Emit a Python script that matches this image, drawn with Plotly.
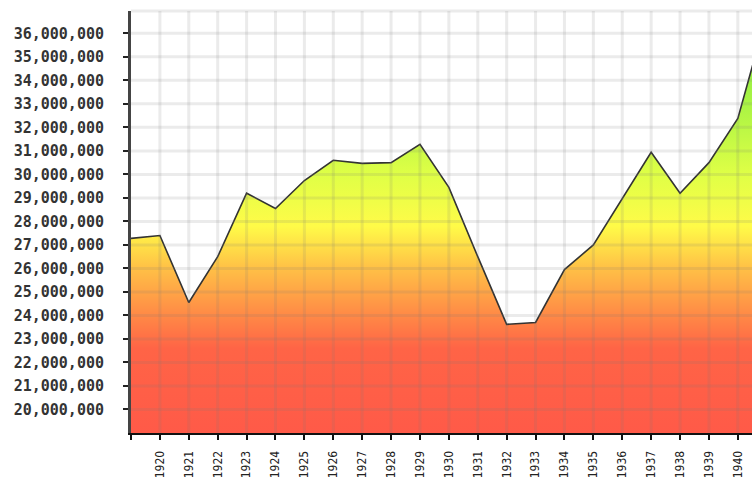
import plotly.graph_objects as go

years = list(range(1919, 1942))
values = [27.28e6, 27.4e6, 24.55e6, 26.5e6, 29.2e6, 28.55e6, 29.74e6, 30.6e6,
          30.47e6, 30.5e6, 31.28e6, 29.45e6, 26.5e6, 23.62e6, 23.7e6, 25.95e6,
          27.0e6, 29.0e6, 30.94e6, 29.2e6, 30.5e6, 32.38e6, 36.8e6]
y_ticks = list(range(20_000_000, 36_000_001, 1_000_000))
x_tick_labels = [str(y) if y != 1919 else "" for y in years[:-1]]

Y_MIN, Y_MAX = 19.0e6, 36.95e6
X_MIN, X_MAX = 1919, 1940.49

grad = [
    [0.0, "#ff5a48"],
    [0.20, "#ff6446"],
    [0.28, "#ff8a46"],
    [0.39, "#ffc046"],
    [0.49, "#fffb48"],
    [0.61, "#e0ff46"],
    [0.78, "#aaf444"],
    [1.0, "#74e844"],
]

fig = go.Figure()
fig.add_trace(go.Scatter(
    x=years, y=values, mode="lines", fill="tozeroy",
    line=dict(color="#333333", width=1.6),
    fillgradient=dict(type="vertical", start=Y_MIN, stop=Y_MAX, colorscale=grad),
    hoverinfo="x+y", showlegend=False,
))

grid_col = "rgba(120,120,120,0.15)"
shapes = []
for yr in years[1:]:
    shapes.append(dict(type="line", xref="x", yref="paper", x0=yr, x1=yr, y0=0, y1=1,
                       line=dict(color=grid_col, width=3), layer="above"))
for t in y_ticks:
    shapes.append(dict(type="line", xref="paper", yref="y", x0=0, x1=1, y0=t, y1=t,
                       line=dict(color=grid_col, width=3), layer="above"))
shapes.append(dict(type="line", xref="paper", yref="paper", x0=0, x1=1, y0=1, y1=1,
                   line=dict(color=grid_col, width=3), layer="above"))

fig.update_layout(
    width=752, height=478,
    margin=dict(l=131, r=0, t=11, b=45, autoexpand=False),
    paper_bgcolor="white", plot_bgcolor="white",
    shapes=shapes,
    xaxis=dict(
        range=[X_MIN, X_MAX], tickmode="array", tickvals=years[:-1], ticktext=x_tick_labels,
        tickangle=-90, showgrid=False, zeroline=False, automargin=False,
        showline=True, linecolor="#111111", linewidth=2,
        ticks="outside", ticklen=5, tickwidth=2, tickcolor="#111111",
        ticklabelstandoff=6,
        tickfont=dict(family="DejaVu Sans Condensed, DejaVu Sans", size=12, color="#222222"),
    ),
    yaxis=dict(
        range=[Y_MIN, Y_MAX], tickmode="array", tickvals=y_ticks,
        ticktext=[f"{t:,}" for t in y_ticks], automargin=False,
        showgrid=False, zeroline=False,
        showline=True, linecolor="#444444", linewidth=3,
        ticks="outside", ticklen=5, tickwidth=2, tickcolor="#222222",
        ticklabelstandoff=16,
        tickfont=dict(family="DejaVu Sans Mono", size=15, color="#333333", weight="bold"),
    ),
)

fig.write_html("out.html", config={"displayModeBar": False},
               post_script="document.body.style.margin='0';document.body.style.overflow='hidden';")
